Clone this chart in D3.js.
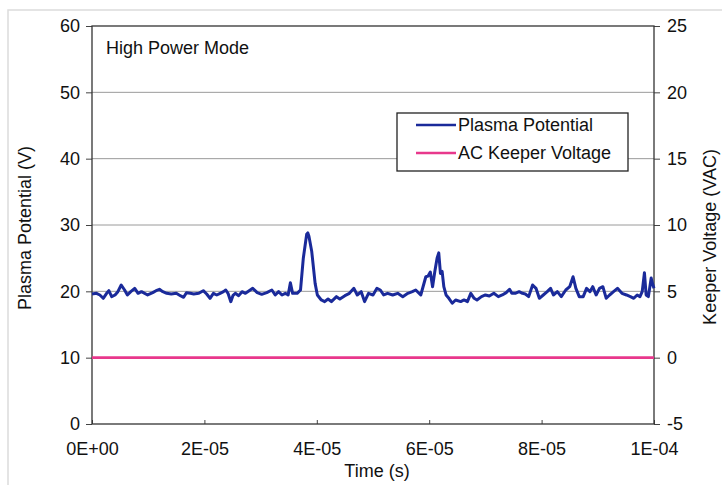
<!DOCTYPE html>
<html><head><meta charset="utf-8">
<script src="https://cdn.jsdelivr.net/npm/d3@7"></script>
<style>html,body{margin:0;padding:0;background:#fff;}svg{display:block;font-family:"Liberation Sans",Arial,Helvetica,sans-serif;}</style>
</head><body><svg id="c" width="722" height="485"></svg>
<script>
// Time in microseconds, plasma potential in volts
const plasmaTime = [0,0.8,1.4,2.0,2.6,3.0,3.5,4.1,4.6,5.2,5.8,6.3,6.9,7.6,8.2,8.8,9.9,10.8,11.4,12.0,12.6,13.3,14.1,15.0,15.8,16.3,16.8,17.5,18.1,19.0,19.8,20.4,21.0,21.6,22.2,22.8,23.4,23.8,24.2,24.7,25.1,25.5,26.1,26.7,27.3,27.9,28.6,29.4,30.2,31.1,32.0,32.6,33.2,33.8,34.4,34.9,35.3,35.7,36.5,37.1,37.6,38.2,38.4,38.6,39.1,39.7,40.1,40.8,41.4,42.0,42.6,43.5,44.1,45.0,45.8,46.6,47.2,47.9,48.5,49.2,50.0,50.7,51.3,51.9,52.6,53.5,54.4,55.3,56.2,57.0,57.6,58.5,59.4,59.8,60.2,60.6,61.0,61.4,61.7,62.0,62.3,62.6,63.0,63.5,64.1,64.7,65.6,66.2,66.8,67.4,68.0,68.5,69.3,70.0,70.7,71.5,72.3,73.0,73.7,74.3,74.7,75.3,76.0,76.6,77.1,77.7,78.4,79.0,79.6,80.3,81.0,81.6,82.1,82.8,83.5,84.3,85.0,85.6,86.1,86.7,87.4,88.0,88.6,89.1,89.7,90.3,90.9,91.5,92.1,92.8,93.5,94.3,95.1,95.8,96.4,97.0,97.5,97.9,98.3,98.6,99.0,99.5,99.8,100];
const plasmaV = [19.6,19.7,19.45,18.95,19.7,20.1,19.2,19.45,19.95,20.96,20.2,19.45,19.95,20.45,19.7,19.95,19.45,19.8,20.1,20.3,19.95,19.7,19.6,19.7,19.3,19.1,19.8,19.7,19.6,19.7,20.1,19.6,18.95,19.7,19.45,19.7,19.95,20.2,19.7,18.44,19.4,19.7,19.35,19.95,19.7,20.05,20.45,19.8,19.55,19.8,20.2,19.45,19.95,19.45,19.7,19.45,21.3,19.7,19.7,20.2,25.0,28.6,28.8,28.3,26.0,21.2,19.45,18.7,18.45,18.85,18.45,19.2,18.85,19.35,19.7,20.45,19.45,19.95,18.45,19.7,19.45,20.45,20.2,19.45,19.7,19.45,19.7,19.2,19.7,19.95,20.2,19.45,22.2,22.3,22.9,20.7,23.0,25.0,25.8,22.7,23.0,20.7,19.45,18.95,18.2,18.7,18.45,18.7,18.45,19.7,18.95,18.7,19.2,19.45,19.3,19.7,19.2,19.45,19.8,20.3,19.7,19.7,19.95,19.7,19.6,19.2,20.95,20.45,18.95,19.45,19.95,20.45,19.45,19.95,19.2,20.2,20.7,22.2,20.45,19.2,19.2,20.45,19.95,20.7,19.45,20.45,20.7,18.95,19.45,19.95,20.45,19.7,19.45,19.2,18.95,19.45,19.2,19.95,22.8,19.45,19.2,22.0,20.95,20.45];
// AC keeper voltage (right axis, VAC)
const keeperTime = [0,10,20,30,40,50,60,70,80,90,100];
const keeperV = [0,0,0,0,0,0,0,0,0,0,0];
const xTicks = [0,20,40,60,80,100];
const xTickLabels = ["0E+00","2E-05","4E-05","6E-05","8E-05","1E-04"];
const leftTicks = [0,10,20,30,40,50,60];
const rightTicks = [-5,0,5,10,15,20,25];
const seriesNames = ["Plasma Potential","AC Keeper Voltage"];
const colors = ["#1a2a9a","#e8388c"];

const svg = d3.select("#c");
const L=92,R=654,T=26,B=424;
const x = d3.scaleLinear().domain([0,100]).range([L,R]);
const yL = d3.scaleLinear().domain([0,60]).range([B,T]);
const yR = d3.scaleLinear().domain([-5,25]).range([B,T]);
const fmt = d => String(d); // plain hyphen minus, as in the original

// outer frame
svg.append("path").attr("d",`M8,485V10H722`).attr("fill","none").attr("stroke","#dcdcdc").attr("stroke-width",1.5);

// gridlines
svg.append("g").selectAll("line").data(leftTicks.filter(d=>d>0&&d<60)).join("line")
  .attr("x1",L).attr("x2",R).attr("y1",d=>yL(d)).attr("y2",d=>yL(d))
  .attr("stroke","#9a9a9a").attr("stroke-width",1);

const fs = "18px";
const gl = svg.append("g").attr("transform",`translate(${L},0)`)
  .call(d3.axisLeft(yL).tickValues(leftTicks).tickSize(6).tickPadding(6).tickFormat(fmt));
const gr = svg.append("g").attr("transform",`translate(${R},0)`)
  .call(d3.axisRight(yR).tickValues(rightTicks).tickSize(6).tickPadding(7).tickFormat(fmt));
const gb = svg.append("g").attr("transform",`translate(0,${B})`)
  .call(d3.axisBottom(x).tickValues(xTicks).tickSize(-4).tickPadding(18).tickFormat((d,i)=>xTickLabels[i]));
[gl,gr,gb].forEach(g=>{
  g.select(".domain").remove();
  g.selectAll(".tick line").attr("stroke","#444");
  g.selectAll("text").attr("font-size",fs).attr("fill","#111").attr("font-family","'Liberation Sans',Arial,sans-serif");
});
// box
svg.append("rect").attr("x",L).attr("y",T).attr("width",R-L).attr("height",B-T)
  .attr("fill","none").attr("stroke","#333").attr("stroke-width",1.3);

// lines
const keeperLine = d3.line().x((d,i)=>x(keeperTime[i])).y(d=>yR(d));
svg.append("path").datum(keeperV).attr("d",keeperLine).attr("fill","none")
  .attr("stroke",colors[1]).attr("stroke-width",2.6);
const plasmaLine = d3.line().x((d,i)=>x(plasmaTime[i])).y(d=>yL(d));
svg.append("path").datum(plasmaV).attr("d",plasmaLine).attr("fill","none")
  .attr("stroke",colors[0]).attr("stroke-width",3).attr("stroke-linejoin","round");

// annotation
svg.append("text").attr("x",106).attr("y",54).attr("font-size","18px").attr("fill","#111").text("High Power Mode");

// axis titles
svg.append("text").attr("transform",`translate(31,228) rotate(-90)`).attr("text-anchor","middle")
  .attr("font-size",fs).attr("fill","#111").text("Plasma Potential (V)");
svg.append("text").attr("transform",`translate(716,237) rotate(-90)`).attr("text-anchor","middle")
  .attr("font-size",fs).attr("fill","#111").text("Keeper Voltage (VAC)");
svg.append("text").attr("x",377).attr("y",477).attr("text-anchor","middle")
  .attr("font-size",fs).attr("fill","#111").text("Time (s)");

// legend
const lg = svg.append("g");
lg.append("rect").attr("x",397).attr("y",113).attr("width",231).attr("height",58)
  .attr("fill","#fff").attr("stroke","#222").attr("stroke-width",1.3);
seriesNames.forEach((n,i)=>{
  const yy = 125 + i*28;
  lg.append("line").attr("x1",416).attr("x2",456).attr("y1",yy).attr("y2",yy)
    .attr("stroke",colors[i]).attr("stroke-width",2.6);
  lg.append("text").attr("x",458).attr("y",yy+6).attr("font-size","18px").attr("fill","#111").text(n);
});
</script></body></html>
